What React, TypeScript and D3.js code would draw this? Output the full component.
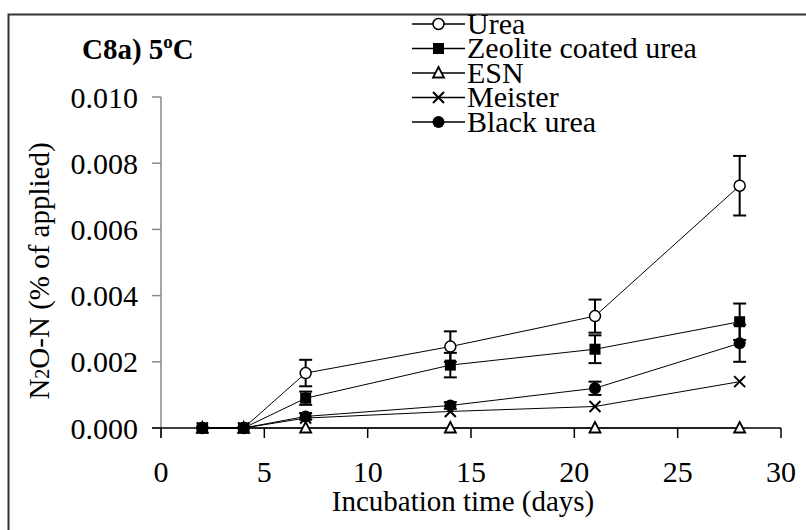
import React from "react";
import * as d3 from "d3";

const days = [2, 4, 7, 14, 21, 28];
const seriesNames = ["Urea", "Zeolite coated urea", "ESN", "Meister", "Black urea"];
const urea = [0, 0, 0.00166, 0.00246, 0.00338, 0.00732];
const ureaErr = [0, 0, 0.0004, 0.00046, 0.0005, 0.0009];
const zeolite = [0, 0, 0.0009, 0.0019, 0.00238, 0.00321];
const zeoliteErr = [0, 0, 0.0002, 0.00037, 0.00042, 0.00055];
const esn = [0, 0, 0, 0, 0, 0];
const esnErr = [0, 0, 0, 0, 0, 0];
const meister = [0, 0, 0.0003, 0.0005, 0.00065, 0.0014];
const meisterErr = [0, 0, 0, 0, 0, 0];
const blackUrea = [0, 0, 0.00035, 0.00068, 0.0012, 0.00256];
const blackUreaErr = [0, 0, 0.0001, 0.0001, 0.0002, 0.00056];
const xTicks = [0, 5, 10, 15, 20, 25, 30];
const yTicks = [0, 0.002, 0.004, 0.006, 0.008, 0.01];

const seriesValues = [urea, zeolite, esn, meister, blackUrea];
const seriesErrors = [ureaErr, zeoliteErr, esnErr, meisterErr, blackUreaErr];
const markerTypes = ["openCircle", "square", "triangle", "cross", "filledCircle"];

const FONT = "Liberation Serif";
const fs = (size: number, extra: React.CSSProperties = {}) => ({ fontFamily: FONT, fontSize: size, ...extra });

function Marker({ type, x, y }: { type: string; x: number; y: number }) {
  switch (type) {
    case "openCircle":
      return <circle cx={x} cy={y} r={5.5} fill="white" stroke="black" strokeWidth={1.5} />;
    case "square":
      return <rect x={x - 5.5} y={y - 5.5} width={11} height={11} fill="black" />;
    case "triangle":
      return (
        <path
          d={`M${x},${y - 6} L${x + 5.5},${y + 4.5} L${x - 5.5},${y + 4.5} Z`}
          fill="white"
          stroke="black"
          strokeWidth={1.8}
        />
      );
    case "cross":
      return (
        <path
          d={`M${x - 5.5},${y - 5.5} L${x + 5.5},${y + 5.5} M${x - 5.5},${y + 5.5} L${x + 5.5},${y - 5.5}`}
          stroke="black"
          strokeWidth={2}
        />
      );
    case "filledCircle":
      return <circle cx={x} cy={y} r={6} fill="black" />;
    default:
      return null;
  }
}

export default function App() {
  const W = 806;
  const H = 530;
  const x = d3.scaleLinear().domain([0, 30]).range([161, 781]);
  const y = d3.scaleLinear().domain([0, 0.01]).range([428, 97]);
  const line = d3
    .line<number>()
    .x((_, i) => x(days[i]))
    .y((v) => y(v));

  const legendX1 = 412;
  const legendX2 = 465;
  const legendRowY = [24, 48.5, 73, 97.5, 122];

  return (
    <svg width={W} height={H} style={{ position: "absolute", left: 0, top: 0, background: "white" }}>
      <rect x={0} y={0} width={W} height={H} fill="white" />
      {/* outer frame */}
      <rect x={8.5} y={14.5} width={900} height={700} fill="none" stroke="#333" strokeWidth={2} />

      {/* y axis */}
      <line x1={161} x2={161} y1={y(0.01)} y2={438} stroke="#888" strokeWidth={1.5} />
      {yTicks.map((t) => (
        <g key={t}>
          <line x1={152} x2={161} y1={y(t)} y2={y(t)} stroke="#888" strokeWidth={1.5} />
          <text x={138} y={y(t)} dy="0.35em" textAnchor="end" style={fs(30)}>
            {d3.format(".3f")(t)}
          </text>
        </g>
      ))}

      {/* x axis */}
      <line x1={152} x2={781} y1={y(0)} y2={y(0)} stroke="black" strokeWidth={1.5} />
      {xTicks.map((t) => (
        <g key={t}>
          <line x1={x(t)} x2={x(t)} y1={y(0)} y2={438} stroke="black" strokeWidth={1.5} />
          <text x={x(t)} y={482} textAnchor="middle" style={fs(30)}>
            {t}
          </text>
        </g>
      ))}

      <text x={463} y={511} textAnchor="middle" style={fs(29)}>
        Incubation time (days)
      </text>
      <text transform="translate(49,271) rotate(-90)" textAnchor="middle" style={fs(29)}>
        N<tspan style={{ fontSize: 20 }}>2</tspan>O-N (% of applied)
      </text>

      {/* title */}
      <text x={82} y={59} style={fs(29, { fontWeight: "bold" })}>
        C8a) 5<tspan style={{ fontSize: 19 }} dy={-11}>o</tspan>
        <tspan dy={11}>C</tspan>
      </text>

      {/* series lines */}
      {seriesValues.map((vals, si) => (
        <path key={si} d={line(vals) || ""} fill="none" stroke="black" strokeWidth={1} />
      ))}

      {/* error bars */}
      {seriesValues.map((vals, si) =>
        vals.map((v, i) => {
          const e = seriesErrors[si][i];
          if (!e) return null;
          const cx = x(days[i]);
          return (
            <g key={`e${si}-${i}`} stroke="black" strokeWidth={2}>
              <line x1={cx} x2={cx} y1={y(v - e)} y2={y(v + e)} />
              <line x1={cx - 6.5} x2={cx + 6.5} y1={y(v + e)} y2={y(v + e)} />
              <line x1={cx - 6.5} x2={cx + 6.5} y1={y(v - e)} y2={y(v - e)} />
            </g>
          );
        })
      )}

      {/* markers */}
      {seriesValues.map((vals, si) =>
        vals.map((v, i) => (
          <Marker key={`m${si}-${i}`} type={markerTypes[si]} x={x(days[i])} y={y(v)} />
        ))
      )}

      {/* legend */}
      {seriesNames.map((name, i) => (
        <g key={name}>
          <line x1={legendX1} x2={legendX2} y1={legendRowY[i]} y2={legendRowY[i]} stroke="black" strokeWidth={1.5} />
          <Marker type={markerTypes[i]} x={(legendX1 + legendX2) / 2} y={legendRowY[i]} />
          <text x={467} y={legendRowY[i]} dy="0.33em" style={fs(30)}>
            {name}
          </text>
        </g>
      ))}
    </svg>
  );
}
